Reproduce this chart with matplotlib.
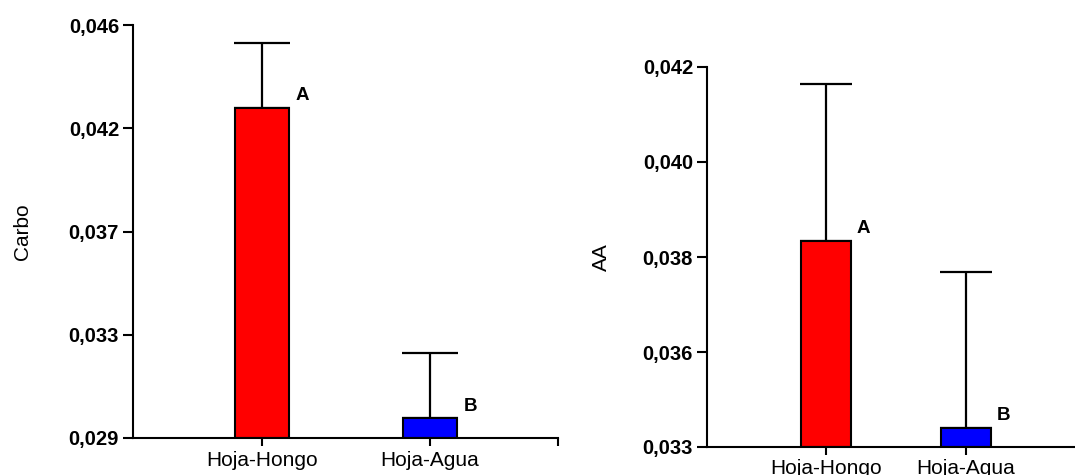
import matplotlib
matplotlib.use("Agg")
import matplotlib.pyplot as plt

# data
groups = ["Hoja-Hongo", "Hoja-Agua"]
carbo_mean = [0.04259, 0.02982]
carbo_err = [0.00267, 0.00268]
aa_mean = [0.03834, 0.03440]
aa_err = [0.00330, 0.00328]
letters = ["A", "B"]
colors = ["#FF0000", "#0000FF"]

carbo_ticks = [0.029, 0.03325, 0.0375, 0.04175, 0.046]
carbo_ticklabels = ["0,029", "0,033", "0,037", "0,042", "0,046"]
aa_ticks = [0.034, 0.036, 0.038, 0.040, 0.042]
aa_ticklabels = ["0,033", "0,036", "0,038", "0,040", "0,042"]

plt.rcParams['font.family'] = ['Liberation Sans', 'DejaVu Sans']

fig = plt.figure(figsize=(10.75, 4.75), dpi=100)
W, H = 1075.0, 475.0


def make_axes(x0, x1, y0, y1):
    # pixel box -> figure fraction
    return fig.add_axes([x0 / W, (H - y1) / H, (x1 - x0) / W, (y1 - y0) / H])


def draw_panel(ax, means, errs, width, cap, xlim, ylim, ticks, ticklabels, ylabel, extra_tick):
    xs = list(range(len(means)))
    ax.bar(xs, [m - ylim[0] for m in means], bottom=ylim[0], width=width,
           color=colors, edgecolor='black', linewidth=1.5, zorder=2)
    ax.errorbar(xs, means, yerr=[[0] * len(errs), errs], fmt='none',
                ecolor='black', elinewidth=1.6, capsize=cap, capthick=1.6, zorder=1)
    for x, m, lab in zip(xs, means, letters):
        ax.annotate(lab, (x + width / 2, m), xytext=(6, 12), textcoords='offset pixels',
                    ha='left', va='center', fontsize=13.5, fontweight='bold')
    ax.set_xlim(*xlim)
    ax.set_ylim(*ylim)
    ax.set_yticks(ticks)
    ax.set_yticklabels(ticklabels, fontsize=14.5, fontweight='bold')
    xt = xs + ([extra_tick] if extra_tick is not None else [])
    ax.set_xticks(xt)
    ax.set_xticklabels(groups + ([""] if extra_tick is not None else []), fontsize=15)
    ax.tick_params(axis='y', length=7, width=1.5, pad=3)
    ax.tick_params(axis='x', length=6, width=1.5, pad=3)
    for s in ['top', 'right']:
        ax.spines[s].set_visible(False)
    for s in ['left', 'bottom']:
        ax.spines[s].set_linewidth(1.5)
    ax.set_ylabel(ylabel, fontsize=15)


# left panel: Carbo
ax1 = make_axes(133, 558, 25, 438)
draw_panel(ax1, carbo_mean, carbo_err, 0.327, 20,
           (-0.768, 1.762), (0.029, 0.046), carbo_ticks, carbo_ticklabels, "Carbo", 1.762)
ax1.yaxis.set_label_coords(-0.238, 0.5)

# right panel: AA
ax2 = make_axes(707, 1075, 67, 447)
draw_panel(ax2, aa_mean, aa_err, 0.357, 18.5,
           (-0.85, 1.78), (0.034, 0.042), aa_ticks, aa_ticklabels, "AA", None)
ax2.yaxis.set_label_coords(-0.261, 0.5)

fig.savefig("out.png", dpi=100)
